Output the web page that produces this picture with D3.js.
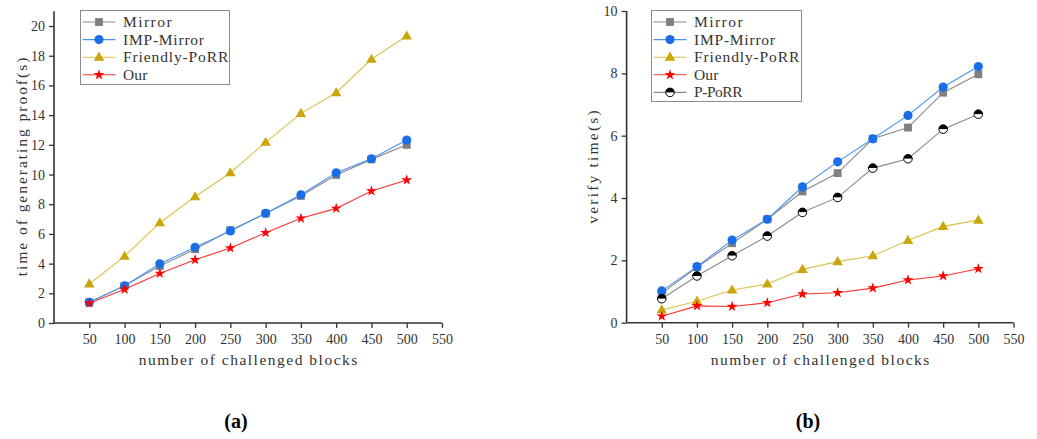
<!DOCTYPE html>
<html><head><meta charset="utf-8">
<script src="https://cdn.jsdelivr.net/npm/d3@7"></script>
<style>body{margin:0;background:#fff}svg{display:block}</style>
</head><body>
<svg id="c" width="1037" height="439"></svg>
<script>
// ---- data ----
const blocks = [50,100,150,200,250,300,350,400,450,500];
const xTickValues = [50,100,150,200,250,300,350,400,450,500,550];
const proofTicks = [0,2,4,6,8,10,12,14,16,18,20];
const verifyTicks = [0,2,4,6,8,10];

const proofMirror   = [1.39,2.50,3.84,4.97,6.25,7.37,8.56,9.97,11.02,12.0];
const proofIMP      = [1.39,2.51,3.99,5.10,6.20,7.39,8.64,10.12,11.06,12.32];
const proofFriendly = [2.63,4.49,6.75,8.50,10.12,12.17,14.12,15.51,17.76,19.33];
const proofOur      = [1.33,2.27,3.34,4.26,5.05,6.08,7.05,7.72,8.89,9.63];

const verMirror   = [0.94,1.78,2.55,3.32,4.21,4.80,5.90,6.26,7.38,7.97];
const verIMP      = [1.02,1.80,2.65,3.32,4.36,5.16,5.90,6.65,7.56,8.22];
const verFriendly = [0.41,0.69,1.05,1.24,1.71,1.96,2.15,2.64,3.09,3.29];
const verOur      = [0.21,0.54,0.52,0.64,0.92,0.96,1.11,1.37,1.50,1.73];
const verPPoRR    = [0.77,1.50,2.15,2.78,3.54,4.02,4.96,5.26,6.21,6.69];

const seriesNames = ["Mirror","IMP-Mirror","Friendly-PoRR","Our","P-PoRR"];

// ---- styles ----
const style = {
  "Mirror":        {line:"#8a8a8a", fill:"#808080", shape:"square"},
  "IMP-Mirror":    {line:"#4f93f2", fill:"#1a6fe8", shape:"circle"},
  "Friendly-PoRR": {line:"#dcc24a", fill:"#c9a60a", shape:"triangle"},
  "Our":           {line:"#ff3333", fill:"#ff0000", shape:"star"},
  "P-PoRR":        {line:"#8a8a8a", fill:"half", shape:"half"}
};

const svg = d3.select("#c");
const FONT_TXT = "'Liberation Serif', serif";
const FONT_SERIF = "'Liberation Serif', serif";
const CHAR_W = 8.1;

function monoText(sel, str) {
  sel.attr("font-family", FONT_TXT).attr("font-size", 15.5).attr("fill", "#333")
     .attr("textLength", str.length * CHAR_W).attr("lengthAdjust", "spacing").text(str);
  return sel;
}

function drawMarker(g, name, x, y) {
  const s = style[name];
  if (s.shape === "half") {
    const r = 4.3;
    g.append("path").attr("d", `M${x-r},${y} A${r},${r} 0 0 1 ${x+r},${y} Z`).attr("fill","#000");
    g.append("path").attr("d", `M${x-r},${y} A${r},${r} 0 0 0 ${x+r},${y} Z`).attr("fill","#fff");
    g.append("circle").attr("cx",x).attr("cy",y).attr("r",r).attr("fill","none").attr("stroke","#000").attr("stroke-width",1);
    return;
  }
  const typeMap = {square:d3.symbolSquare, circle:d3.symbolCircle, triangle:d3.symbolTriangle, star:d3.symbolStar};
  const sizeMap = {square:62, circle:66, triangle:48, star:36};
  g.append("path")
    .attr("d", d3.symbol().type(typeMap[s.shape]).size(sizeMap[s.shape])())
    .attr("transform", `translate(${x},${y + (s.shape==="triangle"?0.5:0)})`)
    .attr("fill", s.fill);
}

function panel(opts) {
  const g = svg.append("g");
  const x = d3.scaleLinear().domain([0,550]).range(opts.xRange);
  const y = d3.scaleLinear().domain(opts.yDomain).range(opts.yRange);

  const xMinor = d3.range(25, 550, 50);
  const yMinor = d3.range(1, opts.yDomain[1], 2);
  const ax = g.append("g").attr("transform", `translate(0,${opts.yRange[0]})`);
  ax.call(d3.axisBottom(x).tickValues(xMinor).tickSize(3).tickFormat(""));
  ax.call(d3.axisBottom(x).tickValues(xTickValues).tickSize(5).tickPadding(6).tickFormat(d3.format("d")));
  const ay = g.append("g").attr("transform", `translate(${opts.xRange[0]},0)`);
  ay.call(d3.axisLeft(y).tickValues(yMinor).tickSize(3).tickFormat(""));
  ay.call(d3.axisLeft(y).tickValues(opts.yTicks).tickSize(5).tickPadding(4).tickFormat(d3.format("d")));
  [ax, ay].forEach(a => {
    a.selectAll("path.domain").attr("stroke","#333").attr("stroke-width",1.6);
    a.selectAll(".tick line").attr("stroke","#333").attr("stroke-width",1.3);
    a.selectAll(".tick text").attr("font-family",FONT_SERIF).attr("font-size",14).attr("fill","#333");
  });
  ax.selectAll("path.domain").attr("d", `M${opts.xRange[0]},0H${opts.xRange[1]}`);
  ay.selectAll("path.domain").attr("d", `M0,${opts.yRange[0]}V${opts.yRange[1]}`);

  // titles
  monoText(g.append("text").attr("x", opts.xTitleX).attr("y", 365).attr("text-anchor","middle"), "number of challenged blocks");
  monoText(g.append("text").attr("transform", `translate(${opts.yTitleX},${opts.yTitleY}) rotate(-90)`).attr("text-anchor","middle"), opts.yTitle);

  // series
  const line = d3.line().x((d,i) => x(blocks[i])).y(d => y(d));
  opts.series.forEach(([name, vals]) => {
    g.append("path").datum(vals).attr("d", line).attr("fill","none")
      .attr("stroke", style[name].line).attr("stroke-width",1.1);
    const mg = g.append("g");
    vals.forEach((v,i) => drawMarker(mg, name, x(blocks[i]), y(v)));
  });

  // legend
  const L = opts.legend;
  const lg = g.append("g");
  lg.append("rect").attr("x",L.x).attr("y",L.y).attr("width",L.w).attr("height",L.h)
    .attr("fill","#fff").attr("stroke","#8c8c8c").attr("stroke-width",1);
  opts.series.forEach(([name], i) => {
    const cy = L.y + 11.5 + i * 17.6;
    lg.append("line").attr("x1",L.x+2).attr("x2",L.x+35).attr("y1",cy).attr("y2",cy)
      .attr("stroke", style[name].line).attr("stroke-width",1.1);
    drawMarker(lg, name, L.x+18.5, cy);
    monoText(lg.append("text").attr("x", L.x+42.5).attr("y", cy+5), name);
  });
}

panel({
  xRange:[54,442], yDomain:[0,21], yRange:[323,11.2], yTicks:proofTicks,
  xTitleX:248, yTitleX:27, yTitleY:167, yTitle:"time of generating proof(s)",
  series:[["Mirror",proofMirror],["IMP-Mirror",proofIMP],["Friendly-PoRR",proofFriendly],["Our",proofOur]],
  legend:{x:80.5,y:10.5,w:149,h:74}
});
panel({
  xRange:[626.6,1013.5], yDomain:[0,10], yRange:[322.7,11], yTicks:verifyTicks,
  xTitleX:820, yTitleX:598, yTitleY:167, yTitle:"verify time(s)",
  series:[["Mirror",verMirror],["IMP-Mirror",verIMP],["Friendly-PoRR",verFriendly],["Our",verOur],["P-PoRR",verPPoRR]],
  legend:{x:651.5,y:10.5,w:150,h:91}
});

// captions
svg.append("text").attr("x",236).attr("y",428).attr("text-anchor","middle")
  .attr("font-family",FONT_SERIF).attr("font-weight","bold").attr("font-size",20).attr("fill","#000").text("(a)");
svg.append("text").attr("x",808).attr("y",428).attr("text-anchor","middle")
  .attr("font-family",FONT_SERIF).attr("font-weight","bold").attr("font-size",20).attr("fill","#000").text("(b)");
</script>
</body></html>
